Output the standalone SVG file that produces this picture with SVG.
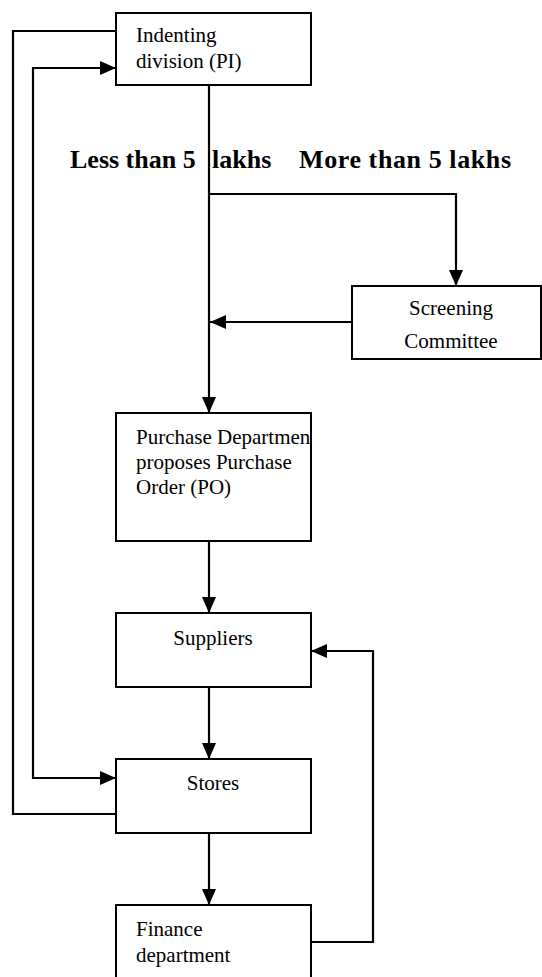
<svg xmlns="http://www.w3.org/2000/svg" width="542" height="977" viewBox="0 0 542 977" font-family="'Liberation Serif', 'Times New Roman', 'DejaVu Serif', serif">
<style>
.box{fill:#fff;stroke:#000;stroke-width:2}
.ln{fill:none;stroke:#000;stroke-width:2.2}
text{font-family:'Liberation Serif','Times New Roman','DejaVu Serif',serif;fill:#000}
.t{font-size:21px}
.c{text-anchor:middle}
.b{font-size:26px;font-weight:bold}
</style>
<defs>
<marker id="ah" markerUnits="userSpaceOnUse" markerWidth="16" markerHeight="14" viewBox="0 0 16 14" refX="16" refY="7" orient="auto">
<path d="M0,0 L16,7 L0,14 z" fill="#000"/>
</marker>
</defs>
<rect width="542" height="977" fill="#fff"/>
<g id="connectors">
<path class="ln" d="M116,31 H13 V814 H116"/>
<path class="ln" d="M116,778 H33 V68 H116" marker-end="url(#ah)"/>
<path class="ln" d="M33,778 H116" marker-end="url(#ah)"/>
<path class="ln" d="M209,85 V413" marker-end="url(#ah)"/>
<path class="ln" d="M209,194 H456 V286" marker-end="url(#ah)"/>
<path class="ln" d="M352,322 H210" marker-end="url(#ah)"/>
<path class="ln" d="M209,541 V613" marker-end="url(#ah)"/>
<path class="ln" d="M209,687 V759" marker-end="url(#ah)"/>
<path class="ln" d="M209,833 V905" marker-end="url(#ah)"/>
<path class="ln" d="M311,942 H373 V651 H311" marker-end="url(#ah)"/>
</g>
<g id="labels">
<text class="b" x="70" y="168" font-family="'Liberation Serif', serif">Less than 5</text>
<text class="b" x="212" y="168" font-family="'Liberation Serif', serif">lakhs</text>
<text class="b" x="299" y="168" font-family="'Liberation Serif', serif" textLength="212" lengthAdjust="spacing">More than 5 lakhs</text>
</g>
<g id="indenting">
<rect class="box" x="116" y="13" width="195" height="72"/>
<text class="t" x="136" y="42">Indenting</text>
<text class="t" x="136" y="68">division (PI)</text>
</g>
<g id="screening">
<rect class="box" x="352" y="286" width="189" height="73"/>
<text class="t c" x="451" y="315">Screening</text>
<text class="t c" x="451" y="348">Committee</text>
</g>
<g id="purchase">
<rect class="box" x="116" y="413" width="195" height="128"/>
<text class="t" x="136" y="444">Purchase Departmen</text>
<text class="t" x="136" y="469">proposes Purchase</text>
<text class="t" x="136" y="494">Order (PO)</text>
</g>
<g id="suppliers">
<rect class="box" x="116" y="613" width="195" height="74"/>
<text class="t c" x="213" y="645">Suppliers</text>
</g>
<g id="stores">
<rect class="box" x="116" y="759" width="195" height="74"/>
<text class="t c" x="213" y="790">Stores</text>
</g>
<g id="finance">
<rect class="box" x="116" y="905" width="195" height="80"/>
<text class="t" x="136" y="936">Finance</text>
<text class="t" x="136" y="962">department</text>
</g>
</svg>
